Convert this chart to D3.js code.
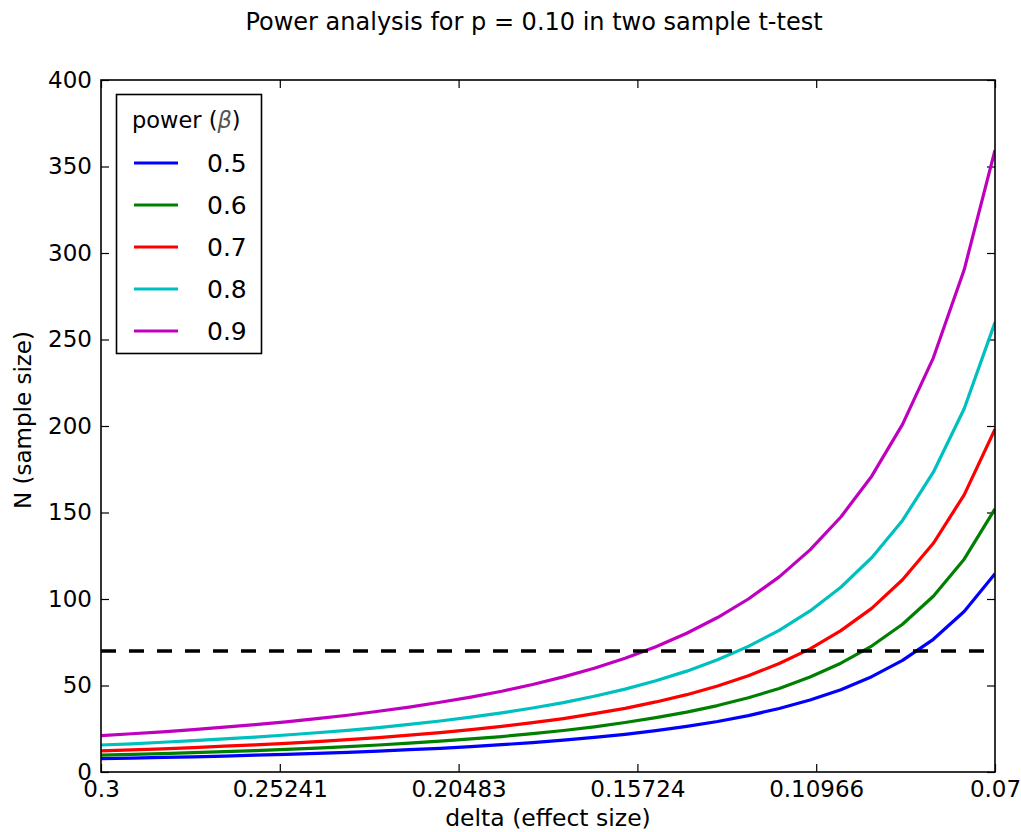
<!DOCTYPE html>
<html><head><meta charset="utf-8">
<script src="https://cdn.jsdelivr.net/npm/d3@7"></script>
<style>body{margin:0;background:#fff}svg{display:block}text{font-family:"DejaVu Sans",sans-serif;fill:#000}</style>
</head><body><svg id="c" width="1021" height="832"></svg>
<script>
const title = "Power analysis for p = 0.10 in two sample t-test";
const xLabel = "delta (effect size)";
const yLabel = "N (sample size)";
const delta = [0.3,0.292069,0.284138,0.276207,0.268276,0.260345,0.252414,0.244483,0.236552,0.228621,0.22069,0.212759,0.204828,0.196897,0.188966,0.181034,0.173103,0.165172,0.157241,0.14931,0.141379,0.133448,0.125517,0.117586,0.109655,0.101724,0.093793,0.085862,0.077931,0.07];
const powers = ["0.5","0.6","0.7","0.8","0.9"];
const n05 = [7.7,8.0,8.4,8.8,9.2,9.7,10.2,10.8,11.4,12.1,12.9,13.7,14.7,15.8,17.0,18.4,20.0,21.8,23.9,26.4,29.2,32.6,36.7,41.6,47.6,55.1,64.5,76.7,92.8,114.6];
const n06 = [9.7,10.2,10.6,11.2,11.8,12.4,13.1,13.8,14.7,15.6,16.7,17.8,19.1,20.5,22.2,24.0,26.1,28.6,31.4,34.6,38.4,42.9,48.3,54.9,62.9,72.8,85.4,101.6,123.0,152.1];
const n07 = [12.2,12.8,13.4,14.1,14.9,15.7,16.6,17.6,18.7,19.9,21.3,22.8,24.5,26.4,28.5,30.9,33.7,36.8,40.5,44.7,49.7,55.6,62.7,71.2,81.7,94.6,111.1,132.2,160.2,198.2];
const n08 = [15.6,16.3,17.2,18.1,19.1,20.2,21.4,22.7,24.1,25.7,27.5,29.5,31.7,34.2,37.0,40.1,43.8,47.9,52.7,58.3,64.9,72.6,81.9,93.1,106.8,123.9,145.4,173.3,210.0,259.9];
const n09 = [21.0,22.1,23.2,24.5,25.9,27.4,29.0,30.8,32.8,35.1,37.5,40.3,43.3,46.7,50.6,55.0,60.0,65.8,72.4,80.2,89.3,100.0,112.8,128.4,147.4,171.0,200.9,239.4,290.3,359.5];
const threshold = 70;
const xTickValues = [0.3,0.254,0.208,0.162,0.116,0.07];
const xTickLabels = ["0.3","0.25241","0.20483","0.15724","0.10966","0.07"];
const yTickValues = [0,50,100,150,200,250,300,350,400];
const colors = ["#0000ff","#008000","#ff0000","#00bfbf","#bf00bf"];
const seriesList = [n05,n06,n07,n08,n09];

const svg = d3.select("#c");
const L=101,R=995,T=80,B=772;
const x = d3.scaleLinear().domain([0.3,0.07]).range([L,R]);
const y = d3.scaleLinear().domain([0,400]).range([B,T]);

const gx = svg.append("g").attr("transform",`translate(0,${B})`)
  .call(d3.axisBottom(x).tickValues(xTickValues).tickSizeInner(-8).tickSizeOuter(0).tickPadding(9).tickFormat((d,i)=>xTickLabels[i]));
const gxt = svg.append("g").attr("transform",`translate(0,${T})`)
  .call(d3.axisTop(x).tickValues(xTickValues).tickSizeInner(-8).tickSizeOuter(0).tickFormat(""));
const gy = svg.append("g").attr("transform",`translate(${L},0)`)
  .call(d3.axisLeft(y).tickValues(yTickValues).tickSizeInner(-8).tickSizeOuter(0).tickPadding(9));
const gyr = svg.append("g").attr("transform",`translate(${R},0)`)
  .call(d3.axisRight(y).tickValues(yTickValues).tickSizeInner(-8).tickSizeOuter(0).tickFormat(""));
[gx,gxt,gy,gyr].forEach(g=>{g.select(".domain").remove();g.selectAll("line").attr("stroke","#000").attr("stroke-width",1.2);
  g.selectAll("text").style("font-family","DejaVu Sans").style("font-size","23px").attr("fill","#000");});

svg.append("clipPath").attr("id","clp").append("rect").attr("x",L).attr("y",T).attr("width",R-L).attr("height",B-T);
const line = d3.line().x((d,i)=>x(delta[i])).y(d=>y(d));
const plot = svg.append("g").attr("clip-path","url(#clp)");
seriesList.forEach((s,k)=>{
  plot.append("path").datum(s).attr("d",line).attr("fill","none").attr("stroke",colors[k]).attr("stroke-width",3.2).attr("stroke-linejoin","round");
});
plot.append("line").attr("x1",x(0.3)).attr("x2",x(0.07)).attr("y1",y(threshold)).attr("y2",y(threshold))
  .attr("stroke","#000").attr("stroke-width",3.5).attr("stroke-dasharray","15,13");

svg.append("rect").attr("x",L).attr("y",T).attr("width",R-L).attr("height",B-T).attr("fill","none").attr("stroke","#000").attr("stroke-width",1.6);

const lg = svg.append("g");
lg.append("rect").attr("x",116.5).attr("y",94.5).attr("width",145).attr("height",259).attr("fill","#fff").attr("stroke","#000").attr("stroke-width",1.6);
const lt = lg.append("text").attr("x",132).attr("y",128).style("font-size","22.5px");
lt.append("tspan").text("power (");
lt.append("tspan").text("β").style("font-style","italic").attr("fill","#555");
lt.append("tspan").text(")");
powers.forEach((p,k)=>{
  const yy = 163 + k*42;
  lg.append("line").attr("x1",134).attr("x2",178).attr("y1",yy).attr("y2",yy).attr("stroke",colors[k]).attr("stroke-width",3.2);
  lg.append("text").attr("x",207).attr("y",yy+9).style("font-size","25px").text(p);
});

svg.append("text").attr("x",534).attr("y",30).attr("text-anchor","middle").style("font-size","24px").text(title);
svg.append("text").attr("x",548).attr("y",826).attr("text-anchor","middle").style("font-size","23.5px").text(xLabel);
svg.append("text").attr("transform","translate(31,420) rotate(-90)").attr("text-anchor","middle").style("font-size","23px").text(yLabel);
</script></body></html>
